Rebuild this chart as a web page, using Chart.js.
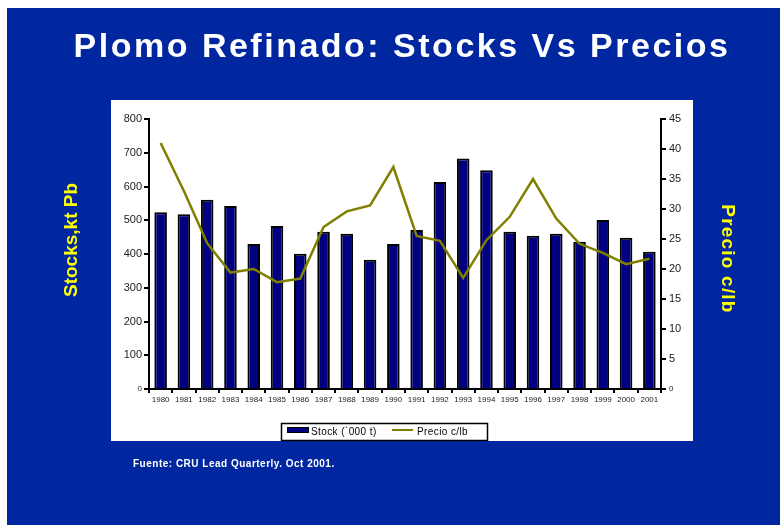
<!DOCTYPE html>
<html>
<head>
<meta charset="utf-8">
<script src="https://cdn.jsdelivr.net/npm/chart.js@4.4.0/dist/chart.umd.min.js"></script>
<style>
  html, body { margin: 0; padding: 0; background: #fff; }
  #wrap { position: relative; width: 780px; height: 525px; }
</style>
</head>
<body>
<div id="wrap"><canvas id="chart" width="780" height="525"></canvas></div>
<script>
// data
const years = ["1980","1981","1982","1983","1984","1985","1986","1987","1988","1989","1990",
  "1991","1992","1993","1994","1995","1996","1997","1998","1999","2000","2001"];
const stock = [524, 518, 561, 542, 430, 483, 401, 466, 460, 383, 430,
  471, 613, 683, 648, 466, 454, 460, 436, 501, 448, 407];
const precio = [41.0, 33.0, 24.3, 19.4, 20.0, 17.8, 18.4, 27.0, 29.6, 30.6, 37.0,
  25.5, 24.7, 18.5, 24.8, 28.7, 35.0, 28.4, 24.2, 22.7, 20.8, 21.7];

const BLUE = "#0027a0";
const NAVY = "#000080";
const OLIVE = "#808000";
const FONT = "'Liberation Sans', Arial, sans-serif";

// slide background + white panel
const slideBg = {
  id: "slideBg",
  beforeDraw(chart) {
    const c = chart.ctx;
    c.save();
    c.fillStyle = "#fff";
    c.fillRect(0, 0, 780, 525);
    c.fillStyle = BLUE;
    c.fillRect(7, 8, 773, 517);
    c.fillStyle = "#fff";
    c.fillRect(111, 100, 582, 341);
    c.restore();
  }
};

// title, axis titles, footer and boxed legend
const slideText = {
  id: "slideText",
  afterDraw(chart) {
    const c = chart.ctx;
    c.save();
    c.fillStyle = "#fff";
    c.textAlign = "center";
    c.textBaseline = "alphabetic";
    c.letterSpacing = "2.5px";
    c.font = "bold 34px " + FONT;
    c.fillText("Plomo Refinado: Stocks Vs Precios", 402, 57);

    c.fillStyle = "#ffff00";
    c.textBaseline = "middle";
    c.letterSpacing = "0px";
    c.font = "bold 19px " + FONT;
    c.save();
    c.translate(72, 240);
    c.rotate(-Math.PI / 2);
    c.fillText("Stocks,kt Pb", 0, 0);
    c.restore();
    c.save();
    c.letterSpacing = "1.2px";
    c.translate(727, 259);
    c.rotate(Math.PI / 2);
    c.fillText("Precio c/lb", 0, 0);
    c.restore();

    c.fillStyle = "#fff";
    c.textAlign = "left";
    c.letterSpacing = "0.5px";
    c.font = "bold 10px " + FONT;
    c.fillText("Fuente: CRU Lead Quarterly. Oct 2001.", 133, 464);

    // legend
    const bars = chart.data.datasets.find(d => d.type === "bar");
    const line = chart.data.datasets.find(d => d.type === "line");
    c.fillStyle = "#fff";
    c.fillRect(281, 423, 207, 18);
    c.strokeStyle = "#000";
    c.lineWidth = 1.5;
    c.strokeRect(281.5, 423.5, 206, 17);
    c.fillStyle = bars.backgroundColor;
    c.fillRect(287, 427, 22, 6);
    c.lineWidth = 1;
    c.strokeRect(287.5, 427.5, 21, 5);
    c.fillStyle = "#000";
    c.letterSpacing = "0.4px";
    c.font = "10px " + FONT;
    c.fillText(bars.label, 311, 432);
    c.strokeStyle = line.borderColor;
    c.lineWidth = 2;
    c.beginPath();
    c.moveTo(392, 430);
    c.lineTo(413, 430);
    c.stroke();
    c.fillText(line.label, 417, 432);
    c.restore();
  }
};

const tickFont = (ctx) => (ctx.tick && ctx.tick.value === 0)
  ? { family: FONT, size: 8 }
  : { family: FONT, size: 11 };

new Chart(document.getElementById("chart"), {
  type: "bar",
  data: {
    labels: years,
    datasets: [
      {
        type: "line",
        label: "Precio c/lb",
        data: precio,
        yAxisID: "y1",
        borderColor: OLIVE,
        borderWidth: 2.5,
        pointRadius: 0,
        tension: 0,
        order: 0
      },
      {
        type: "bar",
        label: "Stock (`000 t)",
        data: stock,
        yAxisID: "y",
        backgroundColor: NAVY,
        borderColor: "#000",
        borderWidth: 2,
        barPercentage: 0.54,
        categoryPercentage: 1.0,
        order: 1
      }
    ]
  },
  options: {
    responsive: false,
    animation: false,
    layout: { padding: { left: 111, right: 87, top: 119, bottom: 116 } },
    plugins: {
      legend: { display: false },
      tooltip: { enabled: false }
    },
    scales: {
      x: {
        offset: true,
        grid: { offset: true, drawOnChartArea: false, color: "#000", lineWidth: 2, tickLength: 4 },
        border: { color: "#000", width: 2 },
        ticks: { color: "#222", font: { family: FONT, size: 8 }, maxRotation: 0, autoSkip: false, padding: 2 },
        afterFit(s) { s.height = 20; }
      },
      y: {
        position: "left",
        min: 0, max: 800,
        ticks: { stepSize: 100, color: "#222", font: tickFont, padding: 2 },
        grid: { drawOnChartArea: false, color: "#000", lineWidth: 2, tickLength: 5 },
        border: { color: "#000", width: 2 },
        afterFit(s) { s.width = 38; }
      },
      y1: {
        position: "right",
        min: 0, max: 45,
        ticks: { stepSize: 5, color: "#222", font: tickFont, padding: 3 },
        grid: { drawOnChartArea: false, color: "#000", lineWidth: 2, tickLength: 5 },
        border: { color: "#000", width: 2 },
        afterFit(s) { s.width = 32; }
      }
    }
  },
  plugins: [slideBg, slideText]
});
</script>
</body>
</html>
